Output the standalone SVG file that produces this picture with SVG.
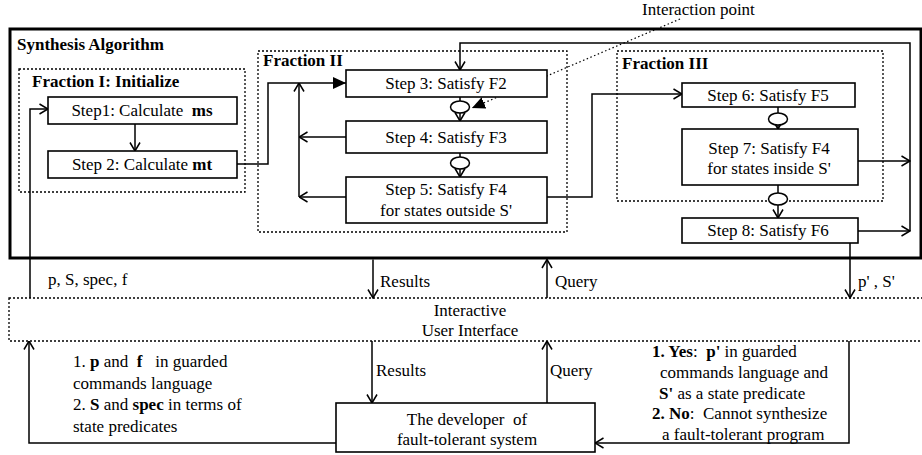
<svg xmlns="http://www.w3.org/2000/svg" width="922" height="455" viewBox="0 0 922 455" font-family="'Liberation Serif', 'Times New Roman', serif" font-size="17">
  <defs>
    <style>
      text { font-family: 'Liberation Serif', 'Times New Roman', serif; font-size: 17px; fill: #000; }
      .b { font-weight: bold; }
      .c { text-anchor: middle; }
      .box { fill: #fff; stroke: #000; stroke-width: 1.6; }
      .frac { fill: none; stroke: #000; stroke-width: 1.3; stroke-dasharray: 2 2; }
      .outer { fill: none; stroke: #000; stroke-width: 3; }
      .wire { fill: none; stroke: #000; stroke-width: 1.5; }
      .open { marker-end: url(#open); }
      .solid { marker-end: url(#solid); }
      .dots { fill: none; stroke: #000; stroke-width: 1.2; stroke-dasharray: 1.5 2.5; }
      .oval { fill: #fff; stroke: #000; stroke-width: 1.5; }
    </style>
    <marker id="open" viewBox="0 0 10 12" refX="9.5" refY="6" markerWidth="10" markerHeight="12" orient="auto" markerUnits="userSpaceOnUse">
      <path d="M1,1 L9.5,6 L1,11" fill="none" stroke="#000" stroke-width="1.5"/>
    </marker>
    <marker id="solid" viewBox="0 0 13 12" refX="13" refY="6" markerWidth="13" markerHeight="12" orient="auto" markerUnits="userSpaceOnUse">
      <path d="M0,0 L13,6 L0,12 z" fill="#000"/>
    </marker>
  </defs>
  <rect width="922" height="455" fill="#fff"/>

  <!-- containers -->
  <g id="synthesis-algorithm">
    <rect class="outer" x="10" y="29" width="911" height="229"/>
    <text class="b" x="17" y="50">Synthesis Algorithm</text>
  </g>
  <g id="fraction-1">
    <rect class="frac" x="19" y="69" width="226" height="123"/>
    <text class="b" x="32" y="87">Fraction I: Initialize</text>
  </g>
  <g id="fraction-2">
    <rect class="frac" x="258" y="51" width="309" height="181"/>
    <text class="b" x="263" y="66">Fraction II</text>
  </g>
  <g id="fraction-3">
    <rect class="frac" x="617" y="51" width="266" height="150"/>
    <text class="b" x="622" y="69">Fraction III</text>
  </g>
  <g id="interface">
    <rect class="frac" x="9" y="298" width="920" height="43"/>
    <text class="c" x="470" y="316">Interactive</text>
    <text class="c" x="470" y="336">User Interface</text>
  </g>

  <!-- connectors -->
  <g id="connectors">
    <path class="wire open" d="M135,124 V151"/>
    <path class="wire solid" d="M237,164 H268 V83 H346"/>
    <path class="wire open" d="M346,137 H299"/>
    <path class="wire open" d="M346,197 H299"/>
    <path class="wire open" d="M299,197 V83"/>
    <path class="wire" d="M460,97 V101"/>
    <path class="wire open" d="M460,113 V121"/>
    <path class="wire" d="M460,153 V157"/>
    <path class="wire open" d="M460,169 V177"/>
    <path class="wire open" d="M547,197 H592 V94 H682"/>
    <path class="wire" d="M778,107 V113"/>
    <path class="wire open" d="M778,125 V129"/>
    <path class="wire" d="M778,185 V193"/>
    <path class="wire open" d="M778,205 V218"/>
    <path class="wire open" d="M858,161 H910"/>
    <path class="wire open" d="M858,231 H910"/>
    <path class="wire open" d="M910,231 V43 H460 V70"/>
    <path class="dots solid" d="M680,19 L472,108"/>
    <path class="wire open" d="M30,298 V109 H48"/>
    <path class="wire open" d="M373,259.5 V298"/>
    <path class="wire open" d="M547,298 V259.5"/>
    <path class="wire open" d="M850,243 V298"/>
    <path class="wire open" d="M336,443 H29 V341"/>
    <path class="wire open" d="M372,341 V403"/>
    <path class="wire open" d="M547,403 V341"/>
    <path class="wire open" d="M849,341 V443 H595"/>
    <ellipse class="oval" cx="460" cy="107" rx="9.5" ry="6"/>
    <ellipse class="oval" cx="460" cy="163" rx="9.5" ry="6"/>
    <ellipse class="oval" cx="778" cy="119" rx="9.5" ry="6"/>
    <ellipse class="oval" cx="778" cy="199" rx="9.5" ry="6"/>
    <text x="642" y="15">Interaction point</text>
    <text x="48" y="285">p, S, spec, f</text>
    <text x="380" y="287">Results</text>
    <text x="555" y="287">Query</text>
    <text x="858" y="287">p' , S'</text>
    <text x="376" y="376">Results</text>
    <text x="550" y="376">Query</text>
  </g>

  <!-- steps -->
  <g id="step1">
    <rect class="box" x="48" y="97" width="189" height="27"/>
    <text class="c" x="142" y="116" xml:space="preserve">Step1: Calculate  <tspan class="b">ms</tspan></text>
  </g>
  <g id="step2">
    <rect class="box" x="48" y="151" width="189" height="27"/>
    <text class="c" x="142" y="170">Step 2: Calculate <tspan class="b">mt</tspan></text>
  </g>
  <g id="step3">
    <rect class="box" x="346" y="70" width="201" height="27"/>
    <text class="c" x="446" y="89">Step 3: Satisfy F2</text>
  </g>
  <g id="step4">
    <rect class="box" x="346" y="121" width="201" height="32"/>
    <text class="c" x="446" y="143">Step 4: Satisfy F3</text>
  </g>
  <g id="step5">
    <rect class="box" x="346" y="177" width="201" height="46"/>
    <text class="c" x="446" y="195">Step 5: Satisfy F4</text>
    <text class="c" x="446" y="216">for states outside S'</text>
  </g>
  <g id="step6">
    <rect class="box" x="682" y="83" width="173" height="24"/>
    <text class="c" x="768" y="101">Step 6: Satisfy F5</text>
  </g>
  <g id="step7">
    <rect class="box" x="682" y="129" width="176" height="56"/>
    <text class="c" x="769" y="154">Step 7: Satisfy F4</text>
    <text class="c" x="769" y="174">for states inside S'</text>
  </g>
  <g id="step8">
    <rect class="box" x="682" y="218" width="176" height="25"/>
    <text class="c" x="768" y="236">Step 8: Satisfy F6</text>
  </g>

  <g id="developer">
    <rect class="box" x="336" y="403" width="259" height="49"/>
    <text class="c" x="467" y="425" xml:space="preserve">The developer  of</text>
    <text class="c" x="467" y="445">fault-tolerant system</text>
  </g>

  <g id="inputs-note">
    <text x="73" y="367" xml:space="preserve">1. <tspan class="b">p</tspan> and  <tspan class="b">f</tspan>   in guarded</text>
    <text x="73" y="388.5">commands  language</text>
    <text x="73" y="410">2. <tspan class="b">S</tspan> and <tspan class="b">spec</tspan> in terms of</text>
    <text x="73" y="431.5">state predicates</text>
  </g>
  <g id="outputs-note">
    <text x="652" y="357" xml:space="preserve"><tspan class="b">1. Yes</tspan>:  <tspan class="b">p'</tspan> in guarded</text>
    <text x="660" y="378">commands language and</text>
    <text x="659" y="398.5"><tspan class="b">S'</tspan> as a state predicate</text>
    <text x="652" y="419" xml:space="preserve"><tspan class="b">2. No</tspan>:  Cannot synthesize</text>
    <text x="662" y="439.5">a fault-tolerant program</text>
  </g>
</svg>
